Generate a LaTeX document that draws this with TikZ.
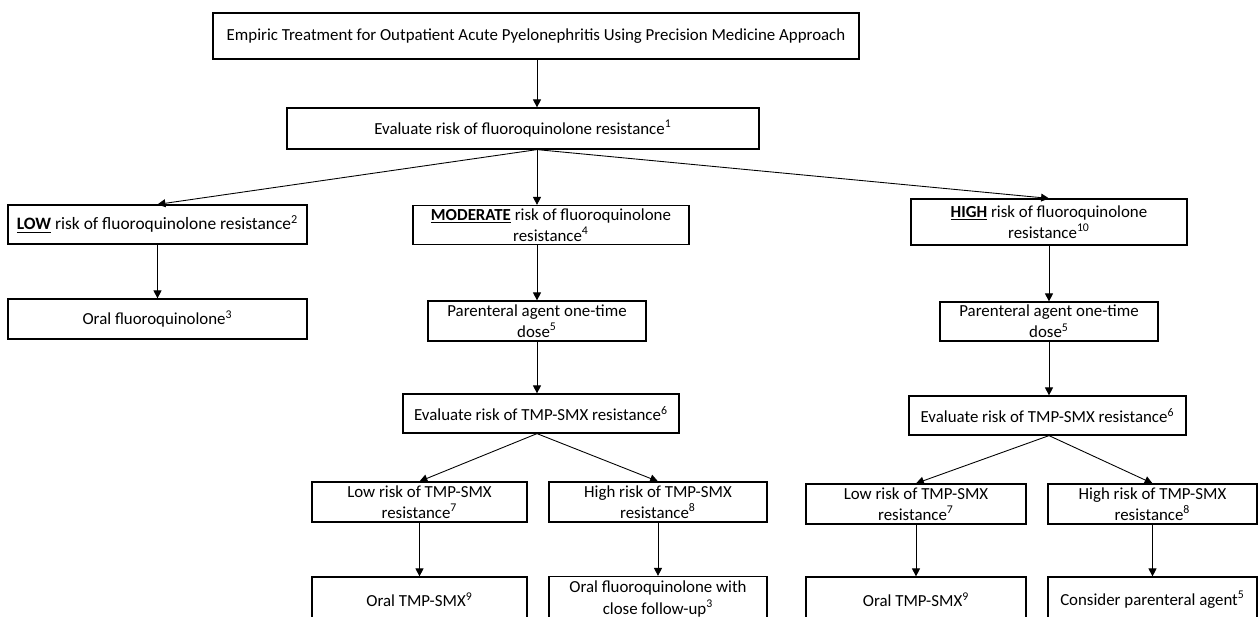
\documentclass[tikz,border=0pt]{standalone}
\usepackage{fontspec}
\setmainfont{Carlito}
\usepackage{tikz}
\usetikzlibrary{arrows.meta,positioning}

\begin{document}
\begin{tikzpicture}[x=0.02cm, y=-0.02cm, >={Triangle[length=4.5pt,width=4.5pt]},
    box/.style={draw, line width=0.7pt, align=center, inner sep=1pt,
        font=\fontsize{9.6}{12}\selectfont},
    link/.style={->, line width=0.5pt}]

        \useasboundingbox (0,0) rectangle (1258,616);

        % Top of the chart
        \node[box, minimum width=12.92cm, minimum height=0.92cm] (top) at (536,36)
            {Empiric Treatment for Outpatient Acute Pyelonephritis Using Precision Medicine Approach};
        \node[box, minimum width=9.44cm, minimum height=0.82cm] (evalFQ) at (523,128.5)
            {Evaluate risk of fluoroquinolone resistance\textsuperscript{1}};
        \coordinate (spine) at (537,0);
        \coordinate (spineH) at (1049,0);

        \draw[link] (top.south -| spine) -- (evalFQ.north -| spine);

        % Low risk branch (left)
        \node[box, minimum width=5.98cm, minimum height=0.78cm, font=\fontsize{9.9}{12}\selectfont] (lowFQ) at (157.5,224.5)
            {\underline{\textbf{LOW}} risk of fluoroquinolone resistance\textsuperscript{2}};
        \node[box, minimum width=5.98cm, minimum height=0.8cm] (oralFQ) at (157.5,319)
            {Oral fluoroquinolone\textsuperscript{3}};

        \draw[link] (evalFQ.south -| spine) -- (lowFQ.north);
        \draw[link] (lowFQ.south) -- (oralFQ.north);

        % Moderate risk branch (middle)
        \node[box, minimum width=5.52cm, minimum height=0.78cm] (modFQ) at (551,225)
            {\underline{\textbf{MODERATE}} risk of fluoroquinolone\\ resistance\textsuperscript{4}};
        \node[box, minimum width=4.36cm, minimum height=0.8cm] (parM) at (537,321)
            {Parenteral agent one-time\\ dose\textsuperscript{5}};
        \node[box, minimum width=5.52cm, minimum height=0.78cm] (evalM) at (541,413.5)
            {Evaluate risk of TMP-SMX resistance\textsuperscript{6}};
        \node[box, minimum width=4.3cm, minimum height=0.8cm] (lowM) at (419.5,502)
            {Low risk of TMP-SMX\\ resistance\textsuperscript{7}};
        \node[box, minimum width=4.36cm, minimum height=0.8cm] (highM) at (658,502)
            {High risk of TMP-SMX\\ resistance\textsuperscript{8}};
        \node[box, minimum width=4.3cm, minimum height=0.9cm] (oralM) at (419.5,599.5)
            {Oral TMP-SMX\textsuperscript{9}};
        \node[box, minimum width=4.36cm, minimum height=0.9cm] (closeM) at (658,599)
            {Oral fluoroquinolone with\\ close follow-up\textsuperscript{3}};

        \draw[link] (evalFQ.south -| spine) -- (modFQ.north -| spine);
        \draw[link] (modFQ.south -| spine) -- (parM.north -| spine);
        \draw[link] (parM.south -| spine) -- (evalM.north -| spine);
        \draw[link] (evalM.south -| spine) -- (lowM.north);
        \draw[link] (evalM.south -| spine) -- (highM.north);
        \draw[link] (lowM.south) -- (oralM.north);
        \draw[link] (highM.south) -- (closeM.north);

        % High risk branch (right)
        \node[box, minimum width=5.52cm, minimum height=0.92cm] (highFQ) at (1049,222)
            {\underline{\textbf{HIGH}} risk of fluoroquinolone\\ resistance\textsuperscript{10}};
        \node[box, minimum width=4.36cm, minimum height=0.78cm] (parH) at (1049,321.5)
            {Parenteral agent one-time\\ dose\textsuperscript{5}};
        \node[box, minimum width=5.54cm, minimum height=0.78cm] (evalH) at (1047.5,415.5)
            {Evaluate risk of TMP-SMX resistance\textsuperscript{6}};
        \node[box, minimum width=4.4cm, minimum height=0.8cm] (lowH) at (916,504)
            {Low risk of TMP-SMX\\ resistance\textsuperscript{7}};
        \node[box, minimum width=4.18cm, minimum height=0.8cm] (highH) at (1152.5,504)
            {High risk of TMP-SMX\\ resistance\textsuperscript{8}};
        \node[box, minimum width=4.4cm, minimum height=0.9cm] (oralH) at (916,599.5)
            {Oral TMP-SMX\textsuperscript{9}};
        \node[box, minimum width=4.18cm, minimum height=0.9cm] (paraH) at (1152.5,599.5)
            {Consider parenteral agent\textsuperscript{5}};

        \draw[link] (evalFQ.south -| spine) -- (highFQ.north);
        \draw[link] (highFQ.south -| spineH) -- (parH.north -| spineH);
        \draw[link] (parH.south -| spineH) -- (evalH.north -| spineH);
        \draw[link] (evalH.south -| spineH) -- (lowH.north);
        \draw[link] (evalH.south -| spineH) -- (highH.north);
        \draw[link] (lowH.south) -- (oralH.north);
        \draw[link] (highH.south) -- (paraH.north);

\end{tikzpicture}
\end{document}
